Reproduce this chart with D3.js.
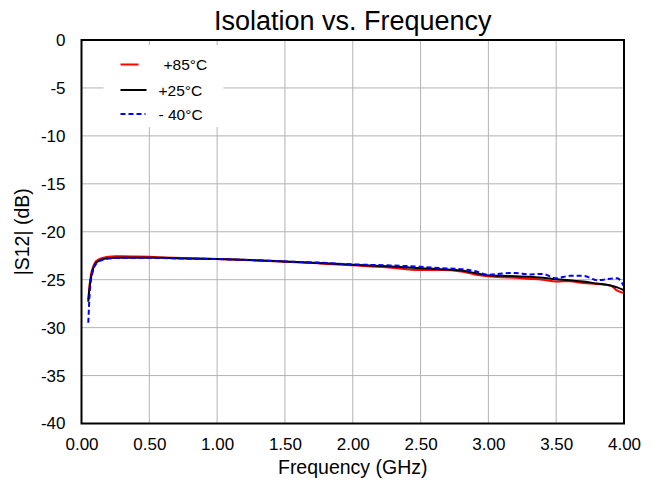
<!DOCTYPE html>
<html>
<head>
<meta charset="utf-8">
<script src="https://cdn.jsdelivr.net/npm/d3@7"></script>
<style>
  body { margin: 0; background: #fff; }
  text { font-family: "Liberation Sans", Arial, sans-serif; fill: #000; }
</style>
</head>
<body>
<script>
// frequency points (GHz)
const freq = [0.05, 0.06, 0.07, 0.08, 0.10, 0.12, 0.15, 0.20, 0.25, 0.30, 0.40, 0.50, 0.60, 0.75,
  1.00, 1.25, 1.50, 1.75, 2.00, 2.25, 2.50, 2.65, 2.80, 2.90, 3.00, 3.10, 3.20, 3.30, 3.40,
  3.50, 3.60, 3.70, 3.80, 3.90, 3.95, 4.00];

// |S12| in dB per temperature
const s12_85 = [-27.1, -25.5, -24.5, -23.9, -23.2, -22.95, -22.75, -22.6, -22.55, -22.55, -22.58, -22.62, -22.68, -22.75,
  -22.85, -22.98, -23.12, -23.3, -23.5, -23.7, -24.0, -24.0, -24.15, -24.45, -24.65, -24.75, -24.8, -24.9, -25.0,
  -25.2, -25.15, -25.35, -25.45, -25.6, -26.15, -26.4];
const s12_25 = [-27.3, -25.8, -24.8, -24.1, -23.4, -23.1, -22.9, -22.75, -22.7, -22.7, -22.7, -22.7, -22.72, -22.78,
  -22.85, -22.95, -23.1, -23.25, -23.45, -23.6, -23.8, -23.9, -24.05, -24.3, -24.55, -24.6, -24.65, -24.7, -24.8,
  -24.95, -25.05, -25.2, -25.4, -25.6, -25.8, -26.1];
const s12_m40 = [-29.5, -26.5, -25.0, -24.3, -23.5, -23.2, -22.95, -22.8, -22.75, -22.72, -22.72, -22.72, -22.75, -22.8,
  -22.85, -22.95, -23.1, -23.22, -23.4, -23.5, -23.65, -23.8, -23.9, -24.1, -24.5, -24.35, -24.3, -24.45, -24.4,
  -24.85, -24.6, -24.6, -25.05, -24.9, -24.85, -25.7];

const xTicks = [0, 0.5, 1, 1.5, 2, 2.5, 3, 3.5, 4];
const yTicks = [0, -5, -10, -15, -20, -25, -30, -35, -40];
const seriesNames = ["+85°C", "+25°C", "- 40°C"];

const series = [
  { name: seriesNames[0], values: s12_85, color: "#ff0000", dash: null },
  { name: seriesNames[1], values: s12_25, color: "#000000", dash: null },
  { name: seriesNames[2], values: s12_m40, color: "#0000ff", dash: "5,3" }
];

const W = 657, H = 482;
const margin = { top: 40, right: 33, bottom: 58.5, left: 81.5 };
const width = W - margin.left - margin.right;
const height = H - margin.top - margin.bottom;

const x = d3.scaleLinear().domain([0, 4]).range([0, width]);
const y = d3.scaleLinear().domain([-40, 0]).range([height, 0]);

const svg = d3.select("body").append("svg")
  .attr("width", W)
  .attr("height", H);

const g = svg.append("g")
  .attr("transform", `translate(${margin.left},${margin.top})`);

// grid
g.append("g")
  .selectAll("line")
  .data(xTicks)
  .join("line")
  .attr("x1", d => x(d)).attr("x2", d => x(d))
  .attr("y1", 0).attr("y2", height)
  .attr("stroke", "#b3b3b3").attr("stroke-width", 1);

g.append("g")
  .selectAll("line")
  .data(yTicks)
  .join("line")
  .attr("x1", 0).attr("x2", width)
  .attr("y1", d => y(d)).attr("y2", d => y(d))
  .attr("stroke", "#b3b3b3").attr("stroke-width", 1);

// axes (labels only)
const xAxis = g.append("g")
  .attr("transform", `translate(0,${height})`)
  .call(d3.axisBottom(x).tickValues(xTicks).tickSize(0).tickPadding(14).tickFormat(d3.format(".2f")));
xAxis.select(".domain").remove();
xAxis.selectAll("text").style("font-size", "17px").style("font-family", "Liberation Sans, Arial, sans-serif");

const yAxis = g.append("g")
  .call(d3.axisLeft(y).tickValues(yTicks).tickSize(0).tickPadding(16).tickFormat(d => d));
yAxis.select(".domain").remove();
yAxis.selectAll("text").style("font-size", "17px").style("font-family", "Liberation Sans, Arial, sans-serif");

// legend box hides grid
g.append("rect")
  .attr("x", 22).attr("y", 5)
  .attr("width", 120).attr("height", 82)
  .attr("fill", "#fff");

// lines
const line = d3.line()
  .x((d, i) => x(freq[i]))
  .y(d => y(d))
  .curve(d3.curveMonotoneX);

series.forEach(s => {
  g.append("path")
    .datum(s.values)
    .attr("fill", "none")
    .attr("stroke", s.color)
    .attr("stroke-width", 2)
    .attr("stroke-dasharray", s.dash)
    .attr("d", line);
});

// frame
g.append("rect")
  .attr("width", width).attr("height", height)
  .attr("fill", "none")
  .attr("stroke", "#000").attr("stroke-width", 2);

// legend
const legend = [
  { y: 24.5, x2: 57, tx: 82 },
  { y: 50, x2: 65, tx: 77 },
  { y: 74, x2: 64, tx: 77 }
];
legend.forEach((l, i) => {
  g.append("line")
    .attr("x1", 39).attr("x2", l.x2)
    .attr("y1", l.y).attr("y2", l.y)
    .attr("stroke", series[i].color)
    .attr("stroke-width", 2)
    .attr("stroke-dasharray", series[i].dash);
  g.append("text")
    .attr("x", l.tx).attr("y", l.y + 5.5)
    .style("font-size", "15.5px")
    .text(series[i].name);
});

// title
svg.append("text")
  .attr("x", margin.left + width / 2).attr("y", 30)
  .attr("text-anchor", "middle")
  .style("font-size", "27px")
  .text("Isolation vs. Frequency");

// axis titles
svg.append("text")
  .attr("x", margin.left + width / 2).attr("y", 474)
  .attr("text-anchor", "middle")
  .style("font-size", "19.5px")
  .text("Frequency (GHz)");

svg.append("text")
  .attr("transform", `translate(29,${margin.top + height / 2}) rotate(-90)`)
  .attr("text-anchor", "middle")
  .style("font-size", "19.5px")
  .text("|S12| (dB)");
</script>
</body>
</html>
